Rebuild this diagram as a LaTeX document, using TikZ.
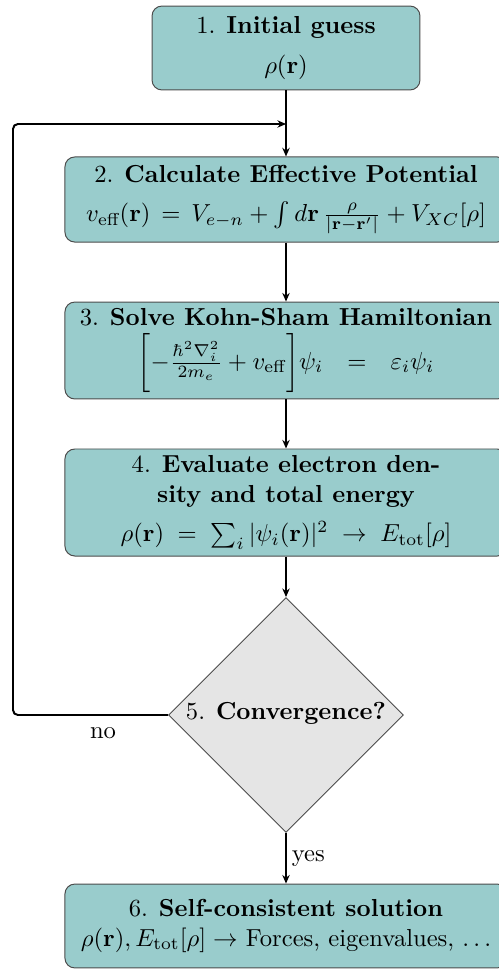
\documentclass[tikz,border=0pt]{standalone}
\usepackage{amsmath}
\usetikzlibrary{shapes.geometric,arrows.meta,calc}
\begin{document}
\begin{tikzpicture}[x=0.4065pt,y=-0.4065pt,
  box/.style={draw=black!70, line width=0.4pt, fill=teal!40, rounded corners=4pt, align=center, inner sep=2pt},
  decision/.style={diamond, draw=black!70, line width=0.4pt, fill=gray!20, inner sep=0pt},
  conn/.style={line width=0.8pt, -{Stealth[length=3.5pt,width=3pt]}},
  lbl/.style={inner sep=2pt}
]
\useasboundingbox (0,0) rectangle (499,969);

\node[box, minimum width=108.9pt, minimum height=34.1pt] (b1) at (286,48)
  {1. \textbf{Initial guess}\\[4pt] $\rho(\mathbf{r})$};
\node[box, minimum width=179.7pt, minimum height=34.6pt] (b2) at (286,199.5)
  {2. \textbf{Calculate Effective Potential}\\[4pt]
   $v_{\text{eff}}(\mathbf{r}) \,=\, V_{e-n} + \int d\mathbf{r}\,\frac{\rho}{|\mathbf{r}-\mathbf{r}'|} + V_{XC}[\rho]$};
\node[box, minimum width=179.7pt, minimum height=39.4pt] (b3) at (286,350.5)
  {3. \textbf{Solve Kohn-Sham Hamiltonian}\\[2pt]
   $\biggl[-\frac{\hbar^2\nabla_i^2}{2m_e} + v_{\text{eff}}\biggr]\psi_i \hspace{7pt}=\hspace{7pt} \varepsilon_i\psi_i$};
\node[box, minimum width=179.7pt, minimum height=43.5pt] (b4) at (286,502.5)
  {4. \textbf{Evaluate electron den-}\\ \textbf{sity and total energy}\\[4pt]
   $\rho(\mathbf{r}) \;=\; \sum_i |\psi_i(\mathbf{r})|^2 \;\rightarrow\; E_{\text{tot}}[\rho]$};
\node[decision, minimum width=95.5pt, minimum height=95.5pt] (d) at (286,715) {};
\node (dt) at ($(d.center)+(0,-2)$) {5. \textbf{Convergence?}};
\node[box, minimum width=179.7pt, minimum height=34.1pt] (b6) at (286,926)
  {6. \textbf{Self-consistent solution}\\
   $\rho(\mathbf{r}), E_{\text{tot}}[\rho] \rightarrow$ Forces, eigenvalues, $\ldots$};

\coordinate (lc) at (13,124);
\coordinate (jn) at (286,124);

\draw[conn] (b1.south) -- (b2.north);
\draw[conn] (b2.south) -- (b3.north);
\draw[conn] (b3.south) -- (b4.north);
\draw[conn] (b4.south) -- (d.north);
\draw[conn] (d.south) -- node[lbl, right] (yes) {yes} (b6.north);
\draw[conn, rounded corners=2pt] (d.west) -| (lc) -- (jn);
\node[lbl] (no) at (103,733) {no};
\end{tikzpicture}
\end{document}
